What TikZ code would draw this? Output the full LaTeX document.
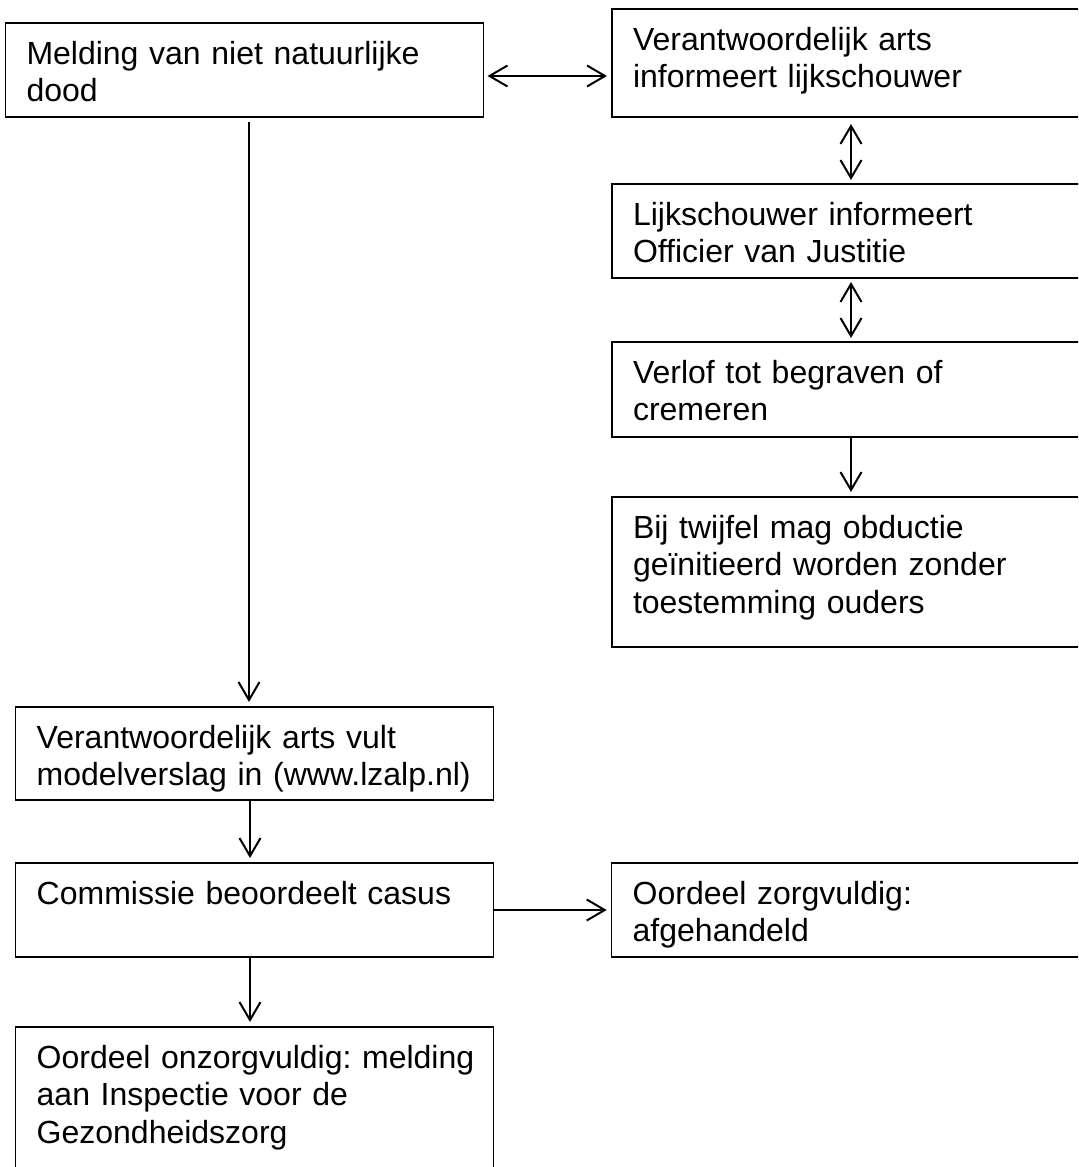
\documentclass[tikz,border=0pt]{standalone}
\usepackage{fontspec}
\setmainfont{Liberation Sans}
\usetikzlibrary{arrows.meta,positioning}
\frenchspacing
\hyphenpenalty=10000
\exhyphenpenalty=10000

\begin{document}
\begin{tikzpicture}[node distance = 32pt]
	\tikzset{BoxStyle/.style = {
			shape=rectangle,
			draw=black,
			line width=0.75pt,
			anchor=north west,
			outer sep=0pt,
			inner xsep=10.5pt,
			inner ysep=0pt,
			text width=218pt,
			align=left,
			text height=20.5pt,
			font=\fontsize{16pt}{18.75pt}\selectfont
	}}
	\tikzset{ArrowStyle/.style = {
			line width=1pt,
			>={Straight Barb[length=9pt,width=10.5pt]}
	}}
	\useasboundingbox (0,0) rectangle (539pt,-583.5pt);
	\clip (0,0) rectangle (539pt,-583.5pt);

	\node[BoxStyle, text depth=26.5pt] (melding) at (2.75pt,-11.5pt) {Melding van niet natuurlijke\\dood};
	\node[BoxStyle, text depth=33.5pt] (informeert) at (306pt,-4.5pt) {Verantwoordelijk arts\\informeert lijkschouwer};
	\node[BoxStyle, text depth=26.5pt, below=33.5pt of informeert] (officier) {Lijkschouwer informeert\\Officier van Justitie};
	\node[BoxStyle, text depth=27pt, below=32pt of officier] (verlof) {Verlof tot begraven of\\cremeren};
	\node[BoxStyle, text depth=54.5pt, below=30pt of verlof] (twijfel) {Bij twijfel mag obductie\\geïnitieerd worden zonder\\toestemming ouders};

	\node[BoxStyle, text depth=26pt] (modelverslag) at (7.85pt,-353.5pt) {Verantwoordelijk arts vult\\\mbox{modelverslag in (www.lzalp.nl)}};
	\node[BoxStyle, text depth=26.5pt, below=31.5pt of modelverslag] (commissie) {Commissie beoordeelt casus};
	\node[BoxStyle, text depth=26.5pt, right=59pt of commissie] (zorgvuldig) {Oordeel zorgvuldig:\\afgehandeld};
	\node[BoxStyle, text depth=54.5pt, below=35pt of commissie] (onzorgvuldig) {\mbox{Oordeel onzorgvuldig: melding}\\aan Inspectie voor de\\Gezondheidszorg};

	\path [ArrowStyle, <->] ([xshift=2pt,yshift=-3pt]melding.east) edge ([xshift=-2.5pt,yshift=-3pt]melding.east -| informeert.west);
	\path [ArrowStyle, <->, shorten <=3.5pt, shorten >=2pt] (informeert.south) edge (officier.north);
	\path [ArrowStyle, <->, shorten <=2pt, shorten >=2pt] (officier.south) edge (verlof.north);
	\path [ArrowStyle, ->, shorten >=2.5pt] (verlof.south) edge (twijfel.north);

	\path [ArrowStyle, ->, shorten <=2.5pt, shorten >=2.5pt] ([xshift=2.25pt]melding.south) edge ([xshift=2.25pt]melding.south |- modelverslag.north);
	\path [ArrowStyle, ->, shorten >=2.5pt] ([xshift=-2.35pt]modelverslag.south) edge ([xshift=-2.35pt]commissie.north);
	\path [ArrowStyle, ->, shorten >=2.5pt] ([xshift=-2.35pt]commissie.south) edge ([xshift=-2.35pt]onzorgvuldig.north);
	\path [ArrowStyle, ->, shorten >=2.5pt] (commissie.east) edge (zorgvuldig.west);
\end{tikzpicture}
\end{document}
